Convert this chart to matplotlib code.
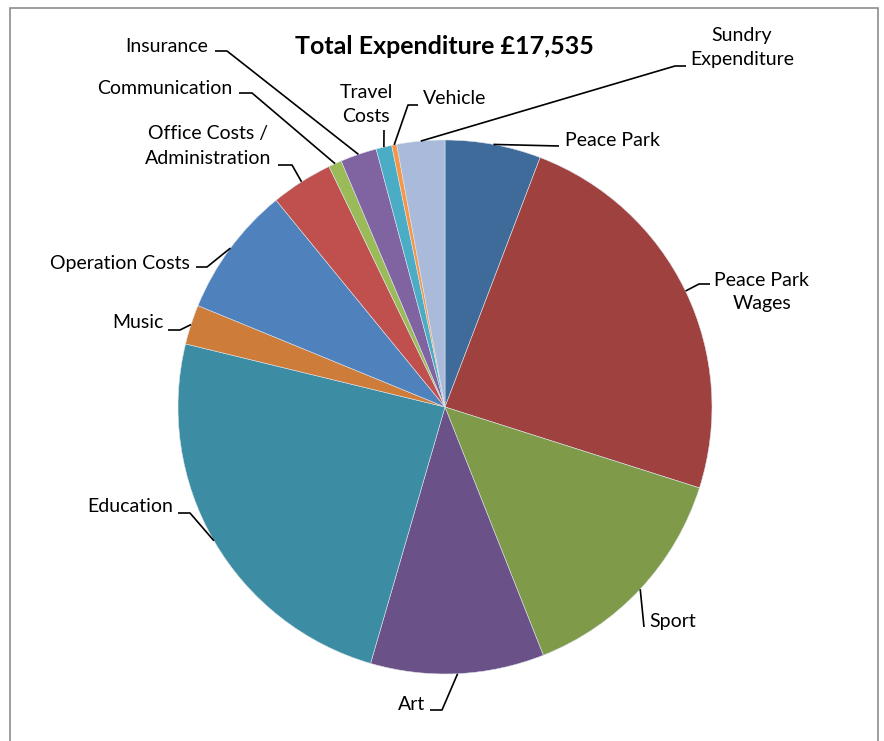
"""
Pie chart of total expenditure (£17,535) by category, Excel-style with leader lines.
"""
import numpy as np
import matplotlib
matplotlib.use('Agg')
import matplotlib.pyplot as plt
from matplotlib.patches import Rectangle

plt.rcParams['font.family'] = ['Lato', 'DejaVu Sans']

# Data (clockwise from 12 o'clock)
categories = ['Peace Park', 'Peace Park\nWages', 'Sport', 'Art', 'Education', 'Music',
              'Operation Costs', 'Office Costs /\nAdministration', 'Communication',
              'Insurance', 'Travel\nCosts', 'Vehicle', 'Sundry\nExpenditure']
amounts = [1017, 4226, 2472, 1841, 4261, 421, 1385, 658, 140, 386, 167, 53, 508]
colors = ['#3f6b9b', '#9e413f', '#7f9b4a', '#6a5187', '#3c8da4', '#cd7c39',
          '#4f81bd', '#c0504d', '#9bbb59', '#8064a2', '#4bacc6', '#f79646', '#a9badb']
title = 'Total Expenditure £17,535'

# Layout, in pixels of the 884x741 picture
W, H = 884, 741
CX, CY, R = 445, 407, 267
# per label: text anchor (x, y), horizontal alignment, elbow points of the leader line
label_layout = [
    ((565, 141), 'left', [(559, 146)]),
    ((762, 292), 'center', [(699, 284), (710, 284)]),
    ((649, 622), 'left', [(644, 627)]),
    ((425, 705), 'right', [(442, 710), (430, 710)]),
    ((173, 507), 'right', [(190, 513), (178, 513)]),
    ((164, 323), 'right', [(180, 330), (168, 330)]),
    ((190, 263), 'right', [(207, 267), (196, 267)]),
    ((208, 146), 'center', [(292, 165), (278, 165)]),
    ((232, 88), 'right', [(252, 93), (239, 93)]),
    ((208, 46), 'right', [(227, 51), (215, 51)]),
    ((366, 104), 'center', [(384, 130)]),
    ((423, 99), 'left', [(408, 105), (418, 105)]),
    ((742, 47), 'center', [(675, 66), (686, 66)]),
]


def px(x, y):
    """Convert picture pixels to pie data coordinates."""
    return (x - CX) / R, (CY - y) / R


fig = plt.figure(figsize=(W / 100, H / 100), dpi=100)
fig.patches.append(Rectangle((10 / W, -0.1), 868 / W, 1.1 - 8 / H,
                             transform=fig.transFigure, fill=False,
                             edgecolor='#8c8c8c', linewidth=1.2))

ax = fig.add_axes([0, 0, 1, 1])
wedges, _ = ax.pie(amounts, colors=colors, startangle=90, counterclock=False, radius=1,
                   wedgeprops=dict(edgecolor='#dde3ea', linewidth=0.4))
ax.set_xlim(px(0, 0)[0], px(W, 0)[0])
ax.set_ylim(px(0, H)[1], px(0, 0)[1])
ax.set_aspect('auto')
ax.axis('off')

for w, name, (pos, ha, elbows) in zip(wedges, categories, label_layout):
    mid = np.deg2rad((w.theta1 + w.theta2) / 2)
    pts = [(np.cos(mid), np.sin(mid))] + [px(*p) for p in elbows]
    xs, ys = zip(*pts)
    ax.plot(xs, ys, color='black', linewidth=1.2, solid_capstyle='butt')
    tx, ty = px(*pos)
    ax.text(tx, ty, name, ha=ha, va='center', fontsize=14, multialignment='center',
            linespacing=1.5, color='black')

tx, ty = px(444, 47)
ax.text(tx, ty, title, ha='center', va='center', fontsize=18, fontweight='bold')

fig.savefig('out.png', dpi=100)
